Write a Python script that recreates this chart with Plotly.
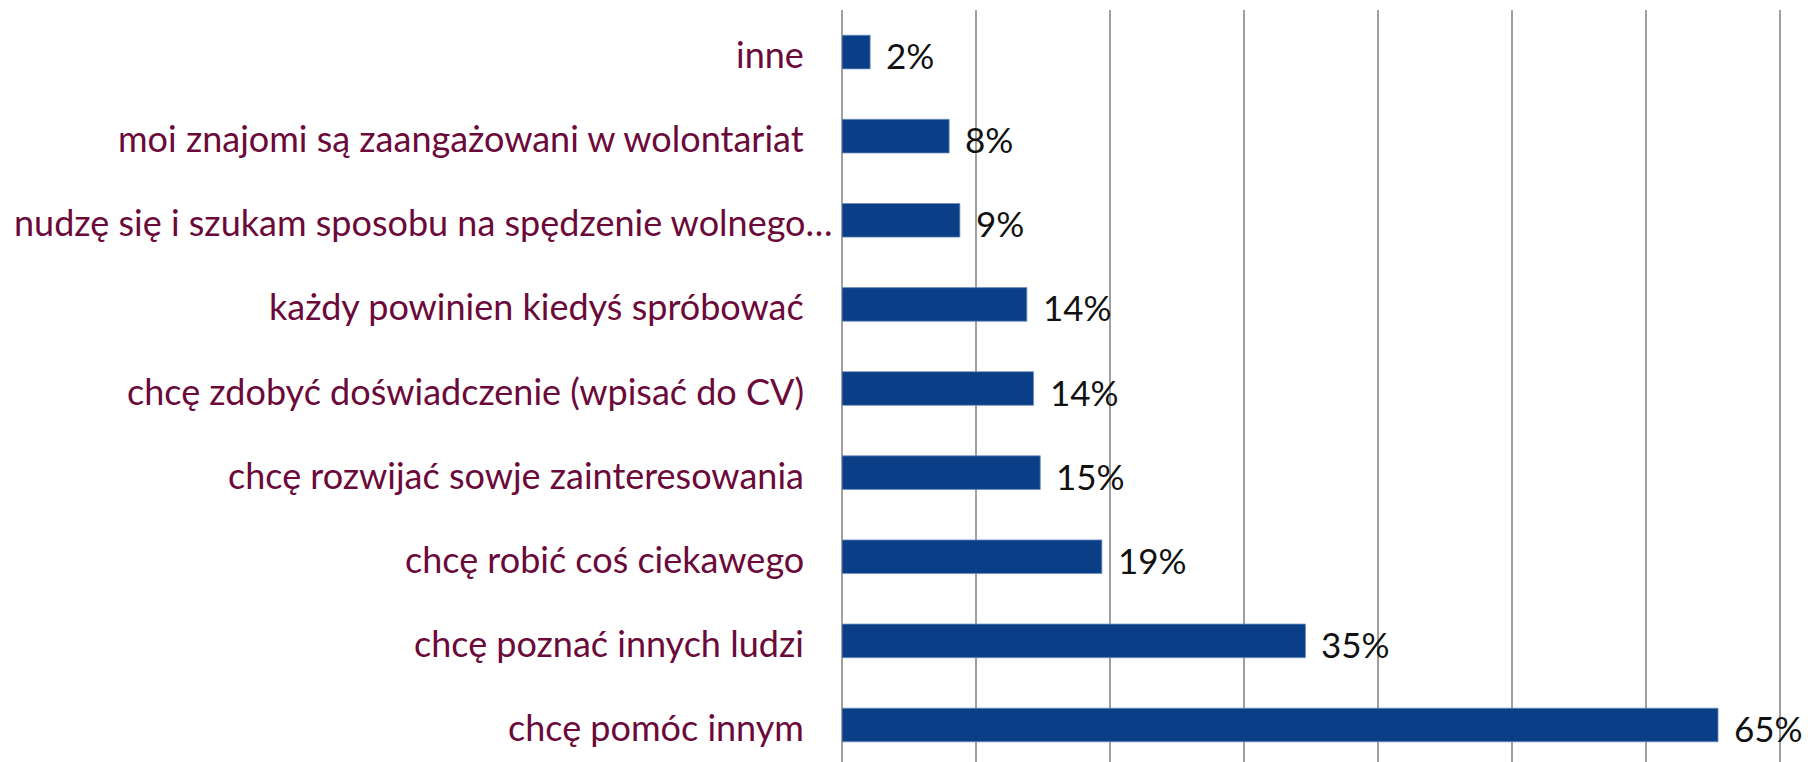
import plotly.graph_objects as go

categories = [
    "chcę pomóc innym",
    "chcę poznać innych ludzi",
    "chcę robić coś ciekawego",
    "chcę rozwijać sowje zainteresowania",
    "chcę zdobyć doświadczenie (wpisać do CV)",
    "każdy powinien kiedyś spróbować",
    "nudzę się i szukam sposobu na spędzenie wolnego…",
    "moi znajomi są zaangażowani w wolontariat",
    "inne",
]
values = [65.4, 34.6, 19.4, 14.8, 14.3, 13.8, 8.8, 8.0, 2.1]
value_labels = ["65%", "35%", "19%", "15%", "14%", "14%", "9%", "8%", "2%"]

BAR = "#0A3E87"
LABEL = "#6B0A3A"
GRID = "#A0A0A0"

fig = go.Figure()
fig.add_trace(go.Bar(
    y=categories, x=values, orientation="h", width=0.4,
    marker=dict(color=BAR, line=dict(color="#6F8FC0", width=0.8)),
    hoverinfo="skip",
))

# value labels
for c, v, t in zip(categories, values, value_labels):
    fig.add_annotation(
        x=v, y=c, text=t, showarrow=False, xanchor="left", yanchor="middle",
        xshift=14, yshift=-3,
        font=dict(family="Lato", size=35, color="#111111"),
    )

# category labels (the truncated one overflows closer to the axis, as in the original)
for c in categories:
    shift = -7 if c.endswith("…") else -36
    fig.add_annotation(
        x=0, y=c, text=c, showarrow=False, xanchor="right", yanchor="middle",
        xshift=shift, yshift=-2,
        font=dict(family="Lato", size=36, color=LABEL),
    )

fig.update_layout(
    width=1818, height=762,
    margin=dict(l=834, r=45, t=2, b=8),
    paper_bgcolor="white", plot_bgcolor="white",
    showlegend=False,
    xaxis=dict(
        range=[0, 70.1], tickvals=[0, 10, 20, 30, 40, 50, 60, 70],
        showgrid=True, gridcolor=GRID, gridwidth=1.5,
        zeroline=True, zerolinecolor=GRID, zerolinewidth=1.5,
        showticklabels=False, ticks="", showline=False, fixedrange=True,
        automargin=False,
    ),
    yaxis=dict(
        type="category", range=[-0.44, 8.5], showgrid=False, zeroline=False,
        ticks="", showticklabels=False, showline=False, fixedrange=True,
        automargin=False,
    ),
)

fig.write_html("out.html")
